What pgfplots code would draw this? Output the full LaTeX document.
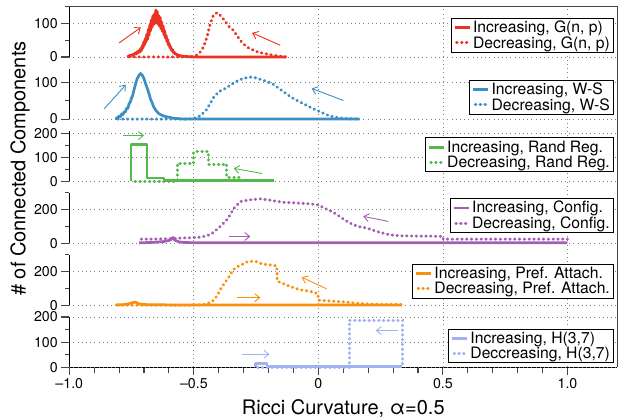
\documentclass[border=0pt]{standalone}
\usepackage{fontspec}
\setmainfont{TeX Gyre Heros}
\usepackage{pgfplots}
\pgfplotsset{compat=1.18}
\usetikzlibrary{arrows.meta}

\definecolor{cRed}{RGB}{234,51,35}
\definecolor{cBlue}{RGB}{61,142,197}
\definecolor{cGreen}{RGB}{85,184,76}
\definecolor{cPurple}{RGB}{164,95,178}
\definecolor{cOrange}{RGB}{249,145,15}
\definecolor{cLight}{RGB}{158,178,240}
\definecolor{axgray}{RGB}{70,70,70}

\newcommand\ticksize{\fontsize{14.2}{16}\selectfont}
\newcommand\legsize{\fontsize{15.7}{16}\selectfont}
\newcommand\labsize{\fontsize{20}{24}\selectfont}

\pgfplotsset{
  gridline/.style={black!50, line width=0.8pt, dash pattern=on 0.8pt off 3.4pt},
  panel/.style={
    scale only axis, width=548pt, height=50.3pt,
    xmin=-1, xmax=1.2, ymin=0,
    axis x line=none, axis y line*=left,
    clip=false,
    tick align=outside,
    ymajorgrids,
    grid style={gridline},
    major tick length=8pt, minor tick length=4.5pt,
    every axis y line/.append style={line width=1.1pt, axgray},
    every tick/.append style={line width=1.1pt, axgray},
    yticklabel style={font=\ticksize, black},
    /pgf/number format/assume math mode=true,
    legend cell align=left,
    legend style={at={(rel axis cs:1,0)}, anchor=south east, xshift=-3pt, yshift=4pt,
      draw=black, line width=0.9pt, fill=white, font=\legsize,
      inner xsep=2pt, inner ysep=1pt, row sep=-2pt},
    legend image code/.code={\draw[#1] (0pt,0pt) -- (15pt,0pt);},
  },
  inc/.style={line width=2.7pt, solid, line join=round},
  dec/.style={line width=3pt, line cap=round, dash pattern=on 0.5pt off 4.3pt, dash phase=2.6pt},
  arr/.style={line width=0.9pt, solid, -{Straight Barb[length=5pt,width=8pt]}, forget plot},
}

\begin{document}
\begin{tikzpicture}
\useasboundingbox (-69.3pt,-51.7pt) rectangle (548.7pt,367.3pt);

% frame, shared x axis and vertical grid
\begin{axis}[
  at={(0pt,0pt)}, anchor=south west,
  scale only axis, width=548pt, height=360.6pt,
  xmin=-1, xmax=1.2, ymin=0, ymax=1,
  clip=false,
  axis y line=none, axis x line*=bottom,
  tick align=outside,
  xtick={-1,-0.5,0,0.5,1},
  xticklabels={–1.0,–0.5,0,0.5,1.0},
  minor x tick num=4,
  major tick length=8pt, minor tick length=6pt,
  extra x ticks={-0.5,0,0.5,1},
  extra x tick labels={},
  extra x tick style={grid=major, major tick length=0pt},
  grid style={gridline},
  every axis x line/.append style={line width=1.1pt, axgray},
  every tick/.append style={line width=1.1pt, axgray},
  xticklabel style={font=\ticksize, black},
  xlabel={Ricci Curvature, α=0.5},
  xlabel style={font=\labsize, at={(axis description cs:0.5,0)}, anchor=center, yshift=-41.5pt},
]
\draw[line width=1.1pt, axgray] (rel axis cs:0,1) -- (rel axis cs:1,1) -- (rel axis cs:1,0);
\node[rotate=90, font=\labsize, anchor=center] at ([xshift=-49.3pt]rel axis cs:0,0.551) {\# of Connected Components};
\end{axis}

% G(n,p)
\begin{axis}[panel, at={(0pt,310.3pt)}, anchor=south west,
  ymax=150, ytick={0,100}, minor ytick={50,150}]
\addplot[inc, cRed] coordinates {
(-0.768,0) (-0.762,2) (-0.756,5) (-0.750,4) (-0.745,8) (-0.740,7) (-0.735,12) (-0.731,9)
(-0.727,16) (-0.723,13) (-0.719,20) (-0.716,15) (-0.713,26) (-0.710,20) (-0.707,34) (-0.704,27)
(-0.701,45) (-0.698,36) (-0.695,55) (-0.692,44) (-0.689,68) (-0.686,52) (-0.683,82) (-0.680,64)
(-0.677,95) (-0.674,78) (-0.671,110) (-0.668,88) (-0.665,122) (-0.662,96) (-0.659,128) (-0.656,100)
(-0.653,140) (-0.650,104) (-0.647,136) (-0.644,98) (-0.641,124) (-0.638,92) (-0.635,118) (-0.632,84)
(-0.629,104) (-0.626,76) (-0.623,92) (-0.620,66) (-0.617,78) (-0.614,56) (-0.611,64) (-0.608,46)
(-0.605,52) (-0.602,36) (-0.599,40) (-0.596,28) (-0.593,30) (-0.590,20) (-0.586,22) (-0.582,13)
(-0.578,14) (-0.574,8) (-0.570,9) (-0.565,5) (-0.560,5) (-0.550,3) (-0.540,2) (-0.525,1)
(-0.505,0) (-0.130,0)};
\addlegendentry{Increasing, G(n, p)}
\addplot[dec, cRed] coordinates {
(-0.768,0) (-0.55,0) (-0.50,2) (-0.487,6) (-0.474,15) (-0.461,30) (-0.447,60) (-0.434,100)
(-0.421,125) (-0.407,132) (-0.395,125) (-0.38,112) (-0.36,92) (-0.342,80) (-0.325,62) (-0.314,50)
(-0.30,38) (-0.28,27) (-0.26,20) (-0.24,14) (-0.22,11) (-0.206,9) (-0.18,5) (-0.15,2) (-0.126,0)};
\addlegendentry{Decreasing, G(n, p)}
\addplot[arr, cRed] coordinates {(-0.8,42) (-0.713,88)};
\addplot[arr, cRed] coordinates {(-0.153,35) (-0.266,72)};
\end{axis}

% W-S
\begin{axis}[panel, at={(0pt,248.24pt)}, anchor=south west,
  ymax=138, ytick={0,100}, minor ytick={50}]
\addplot[inc, cBlue] coordinates {
(-0.814,0) (-0.807,4) (-0.80,8) (-0.795,6) (-0.79,14) (-0.785,12) (-0.78,20) (-0.775,19)
(-0.77,30) (-0.765,29) (-0.76,42) (-0.755,47) (-0.75,58) (-0.745,66) (-0.741,78) (-0.734,96)
(-0.728,110) (-0.72,120) (-0.714,125) (-0.707,120) (-0.701,112) (-0.694,98) (-0.687,84) (-0.681,72)
(-0.674,55) (-0.667,44) (-0.661,33) (-0.656,28) (-0.651,22) (-0.646,19) (-0.641,15) (-0.63,11)
(-0.62,8) (-0.60,5) (-0.58,2) (-0.56,1) (-0.54,0) (0.166,0)};
\addlegendentry{Increasing, W-S}
\addplot[dec, cBlue] coordinates {
(-0.814,0) (-0.52,0) (-0.50,2) (-0.473,9) (-0.45,25) (-0.435,42) (-0.42,60) (-0.40,75)
(-0.385,80) (-0.366,87) (-0.35,95) (-0.33,103) (-0.30,112) (-0.27,115) (-0.25,113) (-0.23,108)
(-0.206,103) (-0.18,95) (-0.16,85) (-0.14,75) (-0.12,65) (-0.10,56) (-0.08,49) (-0.06,42)
(-0.04,35) (-0.02,28) (0.0,22) (0.02,16) (0.04,10) (0.06,6) (0.09,3) (0.12,1) (0.166,0)};
\addlegendentry{Decreasing, W-S}
\addplot[arr, cBlue] coordinates {(-0.86,28) (-0.773,94)};
\addplot[arr, cBlue] coordinates {(0.1,51) (-0.027,84)};
\end{axis}

% Random regular
\begin{axis}[panel, at={(0pt,186.18pt)}, anchor=south west,
  ymax=210, ytick={0,100,200}, minor ytick={50,150}, legend style={yshift=5pt}]
\addplot[inc, cGreen] coordinates {
(-0.752,0) (-0.752,154) (-0.688,154) (-0.688,13) (-0.62,13) (-0.62,3) (-0.18,3)};
\addlegendentry{Increasing, Rand Reg.}
\addplot[dec, cGreen] coordinates {
(-0.745,0) (-0.567,0) (-0.567,73) (-0.501,73) (-0.501,122) (-0.441,122) (-0.441,71)
(-0.367,71) (-0.367,15) (-0.314,15) (-0.314,2) (-0.18,2)};
\addlegendentry{Decreasing, Rand Reg.}
\addplot[arr, cGreen] coordinates {(-0.786,190) (-0.70,190)};
\addplot[arr, cGreen] coordinates {(-0.226,32) (-0.34,53)};
\end{axis}

% Configuration model
\begin{axis}[panel, at={(0pt,124.12pt)}, anchor=south west,
  ymax=300, ytick={0,200}, minor ytick={100,300}, legend style={yshift=6pt}]
\addplot[inc, cPurple] coordinates {
(-0.72,2) (-0.66,5) (-0.62,10) (-0.60,16) (-0.59,24) (-0.584,34) (-0.576,18) (-0.56,8)
(-0.54,4) (-0.50,3) (1.0,3)};
\addlegendentry{Increasing, Config.}
\addplot[dec, cPurple] coordinates {
(-0.72,24) (-0.68,24) (-0.64,25) (-0.60,27) (-0.56,30) (-0.52,32) (-0.49,34) (-0.474,36)
(-0.447,44) (-0.421,64) (-0.394,100) (-0.367,140) (-0.354,170) (-0.341,205) (-0.314,248)
(-0.286,256) (-0.26,261) (-0.234,264) (-0.20,258) (-0.17,250) (-0.14,244) (-0.10,241)
(-0.073,238) (-0.04,235) (-0.006,230) (0.007,222) (0.03,205) (0.06,184) (0.08,165) (0.10,144)
(0.12,125) (0.14,110) (0.165,98) (0.194,90) (0.22,77) (0.247,64) (0.287,50) (0.327,44)
(0.40,42) (0.499,41) (0.501,24) (1.0,24)};
\addlegendentry{Decreasing, Config.}
\addplot[arr, cPurple] coordinates {(-0.36,40) (-0.273,40)};
\addplot[arr, cPurple] coordinates {(0.28,130) (0.18,160)};
\end{axis}

% Preferential attachment
\begin{axis}[panel, at={(0pt,62.06pt)}, anchor=south west,
  ymax=300, ytick={0,200}, minor ytick={100,300}, legend style={yshift=2.7pt}]
\addplot[inc, cOrange] coordinates {
(-0.815,2) (-0.78,4) (-0.76,9) (-0.745,16) (-0.734,18) (-0.72,8) (-0.70,4) (-0.60,2) (0.335,1)};
\addlegendentry{Increasing, Pref. Attach.}
\addplot[dec, cOrange] coordinates {
(-0.815,0) (-0.50,0) (-0.46,4) (-0.446,10) (-0.433,18) (-0.42,30) (-0.405,60) (-0.393,96)
(-0.38,125) (-0.366,153) (-0.353,185) (-0.34,214) (-0.325,230) (-0.313,238) (-0.30,248)
(-0.286,259) (-0.27,262) (-0.246,259) (-0.233,250) (-0.22,245) (-0.19,240) (-0.167,234)
(-0.165,143) (-0.14,128) (-0.113,112) (-0.09,100) (-0.073,92) (-0.046,86) (-0.02,78)
(-0.002,68) (0.0,30) (0.03,27) (0.06,24) (0.10,20) (0.127,16) (0.167,10) (0.20,7) (0.25,5) (0.335,4)};
\addlegendentry{Decreasing, Pref. Attach.}
\addplot[arr, cOrange] coordinates {(-0.326,45) (-0.233,45)};
\addplot[arr, cOrange] coordinates {(0.033,98) (-0.067,167)};
\end{axis}

% H(3,7)
\begin{axis}[panel, at={(0pt,0pt)}, anchor=south west,
  ymax=200, ytick={0,100,200}, minor ytick={50,150}]
\addplot[inc, cLight] coordinates {
(-0.253,0) (-0.253,16) (-0.206,16) (-0.206,2) (0.335,2)};
\addlegendentry{Increasing, H(3,7)}
\addplot[dec, cLight] coordinates {
(-0.253,0) (0.124,0) (0.124,187) (0.338,187) (0.338,0)};
\addlegendentry{Deccreasing, H(3,7)}
\addplot[arr, cLight] coordinates {(-0.306,52) (-0.196,52)};
\addplot[arr, cLight] coordinates {(0.32,146) (0.23,146)};
\end{axis}
\end{tikzpicture}
\end{document}
